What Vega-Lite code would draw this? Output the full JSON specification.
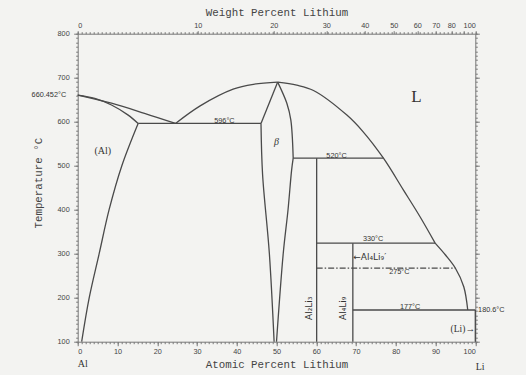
{
  "$schema": "https://vega.github.io/schema/vega-lite/v6.json",
  "width": 397.6,
  "height": 308,
  "autosize": "none",
  "padding": {"left": 77.7, "top": 33.7, "right": 50.7, "bottom": 33.3},
  "background": "#f3f3f1",
  "config": {
    "view": {"stroke": null},
    "axis": {"grid": false, "domainColor": "#777", "tickColor": "#777", "labelColor": "#444", "titleColor": "#444", "labelFont": "Liberation Sans", "labelFontSize": 7.3, "titleFont": "Liberation Mono", "titleFontSize": 10.8, "titleFontWeight": "normal", "labelOverlap": false}
  },
  "datasets": {
    "seg": [
      {"s": "A", "i": 0, "x": 0, "t": 660.5}, {"s": "A", "i": 1, "x": 8.5, "t": 642}, {"s": "A", "i": 2, "x": 16.8, "t": 619}, {"s": "A", "i": 3, "x": 24.6, "t": 596},
      {"s": "B", "i": 0, "x": 0, "t": 660.5}, {"s": "B", "i": 1, "x": 4.3, "t": 653}, {"s": "B", "i": 2, "x": 8.5, "t": 638}, {"s": "B", "i": 3, "x": 12.7, "t": 615}, {"s": "B", "i": 4, "x": 15.2, "t": 596},
      {"s": "C", "i": 0, "x": 15.2, "t": 596}, {"s": "C", "i": 1, "x": 11.1, "t": 500}, {"s": "C", "i": 2, "x": 7.9, "t": 400}, {"s": "C", "i": 3, "x": 5.4, "t": 300}, {"s": "C", "i": 4, "x": 2.9, "t": 200}, {"s": "C", "i": 5, "x": 1.0, "t": 100},
      {"s": "D", "i": 0, "x": 15.2, "t": 596}, {"s": "D", "i": 1, "x": 46.1, "t": 596},
      {"s": "E", "i": 0, "x": 24.6, "t": 596}, {"s": "E", "i": 1, "x": 30.8, "t": 636}, {"s": "E", "i": 2, "x": 39.1, "t": 674}, {"s": "E", "i": 3, "x": 44.2, "t": 685}, {"s": "E", "i": 4, "x": 50.3, "t": 690},
      {"s": "F1", "i": 0, "x": 50.3, "t": 690}, {"s": "F1", "i": 1, "x": 55.1, "t": 683}, {"s": "F1", "i": 2, "x": 59.3, "t": 671}, {"s": "F1", "i": 3, "x": 67.7, "t": 615}, {"s": "F1", "i": 4, "x": 71.8, "t": 577}, {"s": "F1", "i": 5, "x": 76.9, "t": 517}, {"s": "F1", "i": 6, "x": 81.9, "t": 445}, {"s": "F1", "i": 7, "x": 86.1, "t": 384}, {"s": "F1", "i": 8, "x": 89.9, "t": 324},
      {"s": "F2", "i": 0, "x": 89.9, "t": 324}, {"s": "F2", "i": 1, "x": 92.5, "t": 297}, {"s": "F2", "i": 2, "x": 95.0, "t": 267}, {"s": "F2", "i": 3, "x": 97.1, "t": 225}, {"s": "F2", "i": 4, "x": 98.1, "t": 172},
      {"s": "G", "i": 0, "x": 46.1, "t": 596}, {"s": "G", "i": 1, "x": 50.3, "t": 690},
      {"s": "H", "i": 0, "x": 46.1, "t": 596}, {"s": "H", "i": 1, "x": 46.5, "t": 480}, {"s": "H", "i": 2, "x": 48.2, "t": 301}, {"s": "H", "i": 3, "x": 49.4, "t": 100},
      {"s": "I", "i": 0, "x": 50.3, "t": 690}, {"s": "I", "i": 1, "x": 52.6, "t": 642}, {"s": "I", "i": 2, "x": 53.6, "t": 604}, {"s": "I", "i": 3, "x": 54.2, "t": 517},
      {"s": "J", "i": 0, "x": 54.2, "t": 517}, {"s": "J", "i": 1, "x": 53.8, "t": 490}, {"s": "J", "i": 2, "x": 52.9, "t": 400}, {"s": "J", "i": 3, "x": 51.7, "t": 301}, {"s": "J", "i": 4, "x": 50.0, "t": 100},
      {"s": "K", "i": 0, "x": 54.2, "t": 517}, {"s": "K", "i": 1, "x": 76.9, "t": 517},
      {"s": "L", "i": 0, "x": 60.1, "t": 517}, {"s": "L", "i": 1, "x": 60.1, "t": 100},
      {"s": "M", "i": 0, "x": 60.1, "t": 324}, {"s": "M", "i": 1, "x": 89.9, "t": 324},
      {"s": "N", "i": 0, "x": 69.2, "t": 324}, {"s": "N", "i": 1, "x": 69.2, "t": 100},
      {"s": "P", "i": 0, "x": 69.2, "t": 172}, {"s": "P", "i": 1, "x": 100, "t": 172},
      {"s": "Q", "i": 0, "x": 100, "t": 172}, {"s": "Q", "i": 1, "x": 100, "t": 100}
    ],
    "dash": [
      {"s": "O", "i": 0, "x": 60.1, "t": 267}, {"s": "O", "i": 1, "x": 95.0, "t": 267}
    ],
    "temps": [
      {"x": 36.9, "t": 602.3, "label": "596°C"},
      {"x": 65.1, "t": 522.7, "label": "520°C"},
      {"x": 74.3, "t": 333.4, "label": "330°C"},
      {"x": 80.9, "t": 257.7, "label": "275°C"},
      {"x": 83.6, "t": 178.2, "label": "177°C"}
    ],
    "leftlab": [{"x": -2.9, "t": 660, "label": "660.452°C"}],
    "rightlab": [{"x": 100.7, "t": 172, "label": "180.6°C"}],
    "phases": [
      {"x": 6.3, "t": 534, "label": "(Al)"},
      {"x": 1.3, "t": 49, "label": "Al"},
      {"x": 101.2, "t": 42, "label": "Li"}
    ],
    "big": [{"x": 85.2, "t": 656.8, "label": "L"}],
    "beta": [{"x": 50.0, "t": 554.5, "label": "β"}],
    "rot": [
      {"x": 58.2, "t": 176, "label": "Al₂Li₃"},
      {"x": 66.8, "t": 176, "label": "Al₄Li₉"}
    ],
    "arrowR": [{"x": 69.3, "t": 293.2, "label": "←Al₄Li₉′"}],
    "arrowL": [{"x": 99.9, "t": 128.9, "label": "(Li)→"}]
  },
  "resolve": {"axis": {"x": "independent", "y": "independent"}},
  "layer": [
    {
      "data": {"name": "seg"},
      "mark": {"type": "line", "interpolate": "catmull-rom", "color": "#4a4a4a", "strokeWidth": 1.3, "clip": false},
      "encoding": {
        "x": {"field": "x", "type": "quantitative", "scale": {"domain": [0, 100], "nice": false, "zero": false},
          "axis": {"orient": "bottom", "values": [0, 10, 20, 30, 40, 50, 60, 70, 80, 90, 100], "tickSize": 4, "labelPadding": 1.5, "title": "Atomic Percent Lithium", "titleY": 26, "titleBaseline": "alphabetic"}},
        "y": {"field": "t", "type": "quantitative", "scale": {"domain": [100, 800], "nice": false, "zero": false},
          "axis": {"orient": "left", "values": [100, 200, 300, 400, 500, 600, 700, 800], "tickSize": 4, "labelPadding": 4.5, "title": "Temperature °C", "titleX": -36, "titleY": 149, "titleBaseline": "alphabetic", "titleAlign": "center", "titleAngle": -90}},
        "detail": {"field": "s"},
        "order": {"field": "i"}
      }
    },
    {
      "data": {"name": "dash"},
      "mark": {"type": "line", "color": "#4a4a4a", "strokeWidth": 1.2, "strokeDash": [6, 2, 1.5, 2]},
      "encoding": {
        "x": {"field": "x", "type": "quantitative", "scale": {"domain": [0, 100], "nice": false, "zero": false},
          "axis": {"orient": "bottom", "domain": false, "labels": false, "title": null, "tickSize": 2, "values": [0,1,2,3,4,5,6,7,8,9,10,11,12,13,14,15,16,17,18,19,20,21,22,23,24,25,26,27,28,29,30,31,32,33,34,35,36,37,38,39,40,41,42,43,44,45,46,47,48,49,50,51,52,53,54,55,56,57,58,59,60,61,62,63,64,65,66,67,68,69,70,71,72,73,74,75,76,77,78,79,80,81,82,83,84,85,86,87,88,89,90,91,92,93,94,95,96,97,98,99,100]}},
        "y": {"field": "t", "type": "quantitative", "scale": {"domain": [100, 800], "nice": false, "zero": false},
          "axis": {"orient": "left", "domain": false, "labels": false, "title": null, "tickSize": 2, "values": [100,110,120,130,140,150,160,170,180,190,200,210,220,230,240,250,260,270,280,290,300,310,320,330,340,350,360,370,380,390,400,410,420,430,440,450,460,470,480,490,500,510,520,530,540,550,560,570,580,590,600,610,620,630,640,650,660,670,680,690,700,710,720,730,740,750,760,770,780,790,800]}},
        "detail": {"field": "s"},
        "order": {"field": "i"}
      }
    },
    {
      "data": {"name": "temps"},
      "mark": {"type": "text", "font": "Liberation Sans", "fontSize": 7.3, "color": "#333", "baseline": "middle", "align": "center"},
      "encoding": {
        "x": {"field": "x", "type": "quantitative", "scale": {"domain": [0, 100], "nice": false, "zero": false},
          "axis": {"orient": "top", "values": [0, 30.2, 49.3, 62.5, 72.2, 79.5, 85.4, 90.07, 93.96, 97.2, 100], "tickSize": 3, "labelPadding": 1, "labelExpr": "datum.value < 1 ? '0' : datum.value < 31 ? '10' : datum.value < 50 ? '20' : datum.value < 63 ? '30' : datum.value < 73 ? '40' : datum.value < 80 ? '50' : datum.value < 86 ? '60' : datum.value < 91 ? '70' : datum.value < 95 ? '80' : datum.value < 98 ? '' : '100'", "title": "Weight Percent Lithium", "titleY": -18.2, "titleBaseline": "alphabetic"}},
        "y": {"field": "t", "type": "quantitative", "scale": {"domain": [100, 800], "nice": false, "zero": false},
          "axis": {"orient": "right", "values": [100, 200, 300, 400, 500, 600, 700, 800], "tickSize": 4, "labels": false, "title": null}},
        "text": {"field": "label"}
      }
    },
    {
      "data": {"name": "leftlab"},
      "mark": {"type": "text", "font": "Liberation Sans", "fontSize": 7.3, "color": "#333", "baseline": "middle", "align": "right"},
      "encoding": {
        "x": {"field": "x", "type": "quantitative", "scale": {"domain": [0, 100], "nice": false, "zero": false},
          "axis": {"orient": "top", "domain": false, "labels": false, "title": null, "tickSize": 2, "values": [0,1,2,3,4,5,6,7,8,9,10,11,12,13,14,15,16,17,18,19,20,21,22,23,24,25,26,27,28,29,30,31,32,33,34,35,36,37,38,39,40,41,42,43,44,45,46,47,48,49,50,51,52,53,54,55,56,57,58,59,60,61,62,63,64,65,66,67,68,69,70,71,72,73,74,75,76,77,78,79,80,81,82,83,84,85,86,87,88,89,90,91,92,93,94,95,96,97,98,99,100]}},
        "y": {"field": "t", "type": "quantitative", "scale": {"domain": [100, 800], "nice": false, "zero": false},
          "axis": {"orient": "right", "domain": false, "labels": false, "title": null, "tickSize": 2, "values": [100,110,120,130,140,150,160,170,180,190,200,210,220,230,240,250,260,270,280,290,300,310,320,330,340,350,360,370,380,390,400,410,420,430,440,450,460,470,480,490,500,510,520,530,540,550,560,570,580,590,600,610,620,630,640,650,660,670,680,690,700,710,720,730,740,750,760,770,780,790,800]}},
        "text": {"field": "label"}
      }
    },
    {
      "data": {"name": "rightlab"},
      "mark": {"type": "text", "font": "Liberation Sans", "fontSize": 7.3, "color": "#333", "baseline": "middle", "align": "left"},
      "encoding": {
        "x": {"field": "x", "type": "quantitative", "axis": null},
        "y": {"field": "t", "type": "quantitative", "axis": null},
        "text": {"field": "label"}
      }
    },
    {
      "data": {"name": "phases"},
      "mark": {"type": "text", "font": "Liberation Serif", "fontSize": 10, "color": "#333", "baseline": "middle", "align": "center"},
      "encoding": {
        "x": {"field": "x", "type": "quantitative", "axis": null},
        "y": {"field": "t", "type": "quantitative", "axis": null},
        "text": {"field": "label"}
      }
    },
    {
      "data": {"name": "big"},
      "mark": {"type": "text", "font": "Liberation Serif", "fontSize": 17, "color": "#333", "baseline": "middle", "align": "center"},
      "encoding": {
        "x": {"field": "x", "type": "quantitative", "axis": null},
        "y": {"field": "t", "type": "quantitative", "axis": null},
        "text": {"field": "label"}
      }
    },
    {
      "data": {"name": "beta"},
      "mark": {"type": "text", "font": "Liberation Serif", "fontSize": 10, "fontStyle": "italic", "color": "#333", "baseline": "middle", "align": "center"},
      "encoding": {
        "x": {"field": "x", "type": "quantitative", "axis": null},
        "y": {"field": "t", "type": "quantitative", "axis": null},
        "text": {"field": "label"}
      }
    },
    {
      "data": {"name": "rot"},
      "mark": {"type": "text", "font": "DejaVu Sans", "fontSize": 9, "angle": 270, "color": "#333", "baseline": "middle", "align": "center"},
      "encoding": {
        "x": {"field": "x", "type": "quantitative", "axis": null},
        "y": {"field": "t", "type": "quantitative", "axis": null},
        "text": {"field": "label"}
      }
    },
    {
      "data": {"name": "arrowR"},
      "mark": {"type": "text", "font": "DejaVu Sans", "fontSize": 9, "color": "#333", "baseline": "middle", "align": "left"},
      "encoding": {
        "x": {"field": "x", "type": "quantitative", "axis": null},
        "y": {"field": "t", "type": "quantitative", "axis": null},
        "text": {"field": "label"}
      }
    },
    {
      "data": {"name": "arrowL"},
      "mark": {"type": "text", "font": "Liberation Serif", "fontSize": 9.5, "color": "#333", "baseline": "middle", "align": "right"},
      "encoding": {
        "x": {"field": "x", "type": "quantitative", "axis": null},
        "y": {"field": "t", "type": "quantitative", "axis": null},
        "text": {"field": "label"}
      }
    }
  ]
}
